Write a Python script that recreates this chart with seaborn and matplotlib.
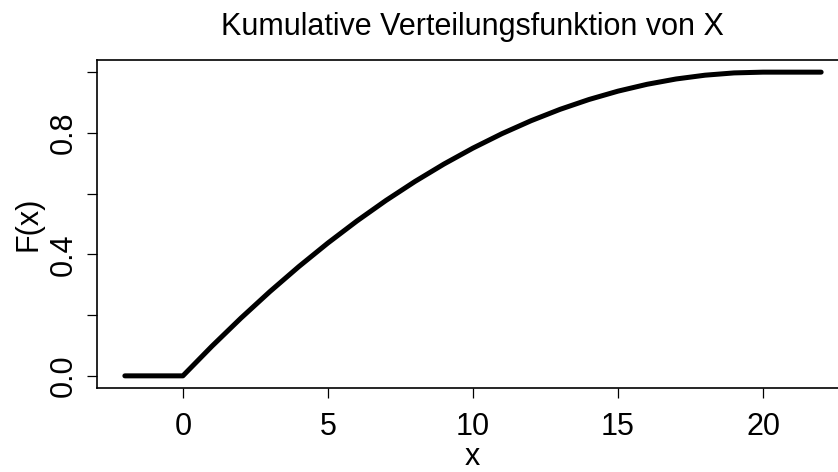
import matplotlib
matplotlib.use("Agg")
import matplotlib.pyplot as plt
import seaborn as sns
import pandas as pd

# Werte
x_werte = [-2, 0, 1, 2, 3, 4, 5, 6, 7, 8, 9, 10, 11, 12, 13, 14, 15, 16, 17, 18, 19, 20, 22]
F_werte = [0.0, 0.0, 0.0975, 0.19, 0.2775, 0.36, 0.4375, 0.51, 0.5775, 0.64, 0.6975,
           0.75, 0.7975, 0.84, 0.8775, 0.91, 0.9375, 0.96, 0.9775, 0.99, 0.9975, 1.0, 1.0]
x_ticks = [0, 5, 10, 15, 20]
y_ticks = [0.0, 0.2, 0.4, 0.6, 0.8, 1.0]
y_labels = ["0.0", "", "0.4", "", "0.8", ""]

df = pd.DataFrame({"x": x_werte, "F": F_werte})

sns.set_style("white")
plt.rcParams["font.family"] = ["Liberation Sans", "DejaVu Sans"]
plt.rcParams["text.color"] = "black"

fig = plt.figure(figsize=(8.38, 4.72), dpi=100)
# rechter Rand liegt ausserhalb des Bildes (wie im Original)
ax = fig.add_axes([97 / 838, 1 - 388 / 472, (849 - 97) / 838, (388 - 60) / 472])

sns.lineplot(data=df, x="x", y="F", ax=ax, color="black", linewidth=3.6,
             solid_capstyle="round", solid_joinstyle="round", estimator=None)

ax.set_xlim(-2.96, 22.96)
ax.set_ylim(-0.04, 1.04)
ax.set_xticks(x_ticks)
ax.set_xticklabels([str(t) for t in x_ticks])
ax.set_yticks(y_ticks)
ax.set_yticklabels(y_labels, rotation=90, va="center")

for s in ax.spines.values():
    s.set_color("black")
    s.set_linewidth(1.2)

ax.tick_params(axis="both", direction="out", length=7.2, width=0.9, color="black",
               labelsize=22, labelcolor="black", bottom=True, left=True)
ax.tick_params(axis="x", pad=10)
ax.tick_params(axis="y", pad=6)

ax.set_xlabel("")
ax.set_ylabel("")
fig.text(472 / 838, 1 - 465 / 472, "x", ha="center", va="baseline", fontsize=22)
fig.text(28 / 838, 1 - 224 / 472, "F(x)", ha="center", va="center", rotation=90, fontsize=22)
fig.text(472 / 838, 1 - 35 / 472, "Kumulative Verteilungsfunktion von X",
         ha="center", va="baseline", fontsize=22)

fig.savefig("out.png", dpi=100)
